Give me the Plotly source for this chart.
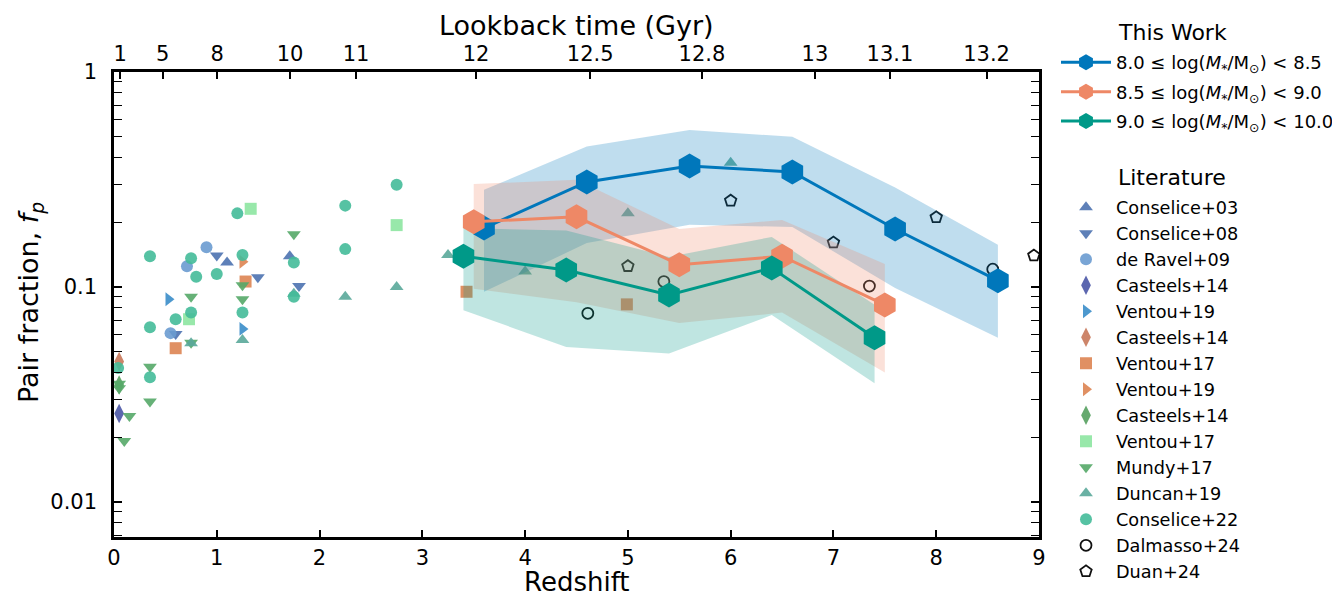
import plotly.graph_objects as go

# ---------------- This work ----------------
z_blue = [3.6, 4.6, 5.6, 6.6, 7.6, 8.6]
fp_blue = [0.188, 0.308, 0.365, 0.343, 0.186, 0.107]
lo_blue = [0.095, 0.160, 0.195, 0.190, 0.099, 0.058]
hi_blue = [0.283, 0.450, 0.537, 0.500, 0.290, 0.157]

z_sal = [3.5, 4.5, 5.5, 6.5, 7.5]
fp_sal = [0.201, 0.212, 0.127, 0.139, 0.0825]
lo_sal = [0.098, 0.085, 0.068, 0.076, 0.040]
hi_sal = [0.301, 0.315, 0.186, 0.205, 0.128]

z_grn = [3.4, 4.4, 5.4, 6.4, 7.4]
fp_grn = [0.139, 0.120, 0.0918, 0.1225, 0.058]
lo_grn = [0.078, 0.0526, 0.049, 0.074, 0.0357]
hi_grn = [0.188, 0.183, 0.138, 0.171, 0.0826]

this_work_labels = [
    "8.0 ≤ log(<i>M</i><sub>*</sub>/M<sub>⊙</sub>) < 8.5",
    "8.5 ≤ log(<i>M</i><sub>*</sub>/M<sub>⊙</sub>) < 9.0",
    "9.0 ≤ log(<i>M</i><sub>*</sub>/M<sub>⊙</sub>) < 10.0",
]
this_work_colors = ["#0077BB", "#EE8866", "#009988"]
this_work_fills = ["rgba(0,119,187,0.25)", "rgba(238,136,102,0.25)", "rgba(0,153,136,0.25)"]

# ---------------- Literature ----------------
lit_names = ["Conselice+03", "Conselice+08", "de Ravel+09", "Casteels+14", "Ventou+19",
             "Casteels+14", "Ventou+17", "Ventou+19", "Casteels+14", "Ventou+17",
             "Mundy+17", "Duncan+19", "Conselice+22", "Dalmasso+24", "Duan+24"]
lit_symbols = ["triangle-up", "triangle-down", "circle", "diamond-tall", "triangle-right",
               "diamond-tall", "square", "triangle-right", "diamond-tall", "square",
               "triangle-down", "triangle-up", "circle", "circle-open", "pentagon-open"]
lit_colors = ["#4C72B0", "#4C72B0", "#6A9BD0", "#4A56A6", "#3A8DC9",
              "#C8785A", "#DD8452", "#DD8452", "#55A05F", "#8DE5A1",
              "#55A868", "#5AA99A", "#44BB99", "#111111", "#111111"]

lit_z = [
    [1.10, 1.71],
    [0.60, 1.00, 1.40, 1.80],
    [0.55, 0.71, 0.90],
    [0.05],
    [0.53, 1.25],
    [0.05],
    [0.60, 1.28, 3.43, 4.99],
    [1.25],
    [0.05],
    [0.73, 1.33, 2.75],
    [0.05, 0.05, 0.10, 0.15, 0.35, 0.35, 0.75, 0.75, 1.25, 1.25, 1.75],
    [0.75, 1.25, 1.75, 2.25, 2.75, 3.25, 4.00, 5.00, 6.00],
    [0.04, 0.35, 0.35, 0.35, 0.60, 0.75, 0.75, 0.80, 1.00, 1.20, 1.25, 1.25, 1.75, 1.75, 2.25, 2.25, 2.75],
    [4.61, 5.35, 7.35, 8.55],
    [5.00, 6.00, 7.00, 8.00, 8.95],
]
lit_fp = [
    [0.130, 0.139],
    [0.0604, 0.140, 0.111, 0.101],
    [0.061, 0.125, 0.153],
    [0.0258],
    [0.0877, 0.0638],
    [0.045],
    [0.0519, 0.106, 0.095, 0.083],
    [0.131],
    [0.035],
    [0.0708, 0.231, 0.194],
    [0.0355, 0.0338, 0.0192, 0.0251, 0.0426, 0.0293, 0.090, 0.055, 0.102, 0.0877, 0.176],
    [0.0547, 0.0567, 0.093, 0.090, 0.100, 0.141, 0.118, 0.220, 0.378],
    [0.042, 0.139, 0.065, 0.038, 0.0708, 0.136, 0.076, 0.1116, 0.115, 0.220, 0.141, 0.076, 0.130, 0.090, 0.239, 0.150, 0.299],
    [0.0754, 0.106, 0.101, 0.121],
    [0.125, 0.252, 0.161, 0.211, 0.140],
]

# Top axis: lookback time labels at their redshift positions
lookback_labels = ["1", "5", "8", "10", "11", "12", "12.5", "12.8", "13", "13.1", "13.2"]
lookback_z = [0.06, 0.474, 1.005, 1.713, 2.355, 3.523, 4.633, 5.72, 6.82, 7.55, 8.49]

FONT = "DejaVu Sans"
# plot-area geometry in pixels (used to place titles/legends)
L, R, T, B = 114, 1039, 72, 537
W, H = R - L, B - T


def px_x(x):
    return (x - L) / W


def px_y(y):
    return (B - y) / H


fig = go.Figure()

# literature points (drawn first, under the bands)
for i, (name, sym, col, zz, ff) in enumerate(zip(lit_names, lit_symbols, lit_colors, lit_z, lit_fp)):
    is_open = sym.endswith("open")
    if sym == "circle-open":
        size = 11
    elif sym == "diamond-tall":
        size = 14
    else:
        size = 12
    fig.add_trace(go.Scatter(
        x=zz, y=ff, mode="markers", name=name, legend="legend2", legendgroup=f"lit{i}",
        marker=dict(symbol=sym, size=size, color=col, opacity=1.0 if is_open else 0.9,
                    line=dict(width=1.8 if is_open else 0, color=col)),
    ))

# bands
for zz, lo, hi, fc in [(z_blue, lo_blue, hi_blue, this_work_fills[0]),
                       (z_sal, lo_sal, hi_sal, this_work_fills[1]),
                       (z_grn, lo_grn, hi_grn, this_work_fills[2])]:
    fig.add_trace(go.Scatter(
        x=list(zz) + list(zz)[::-1], y=list(hi) + list(lo)[::-1],
        fill="toself", fillcolor=fc, line=dict(width=0), mode="lines",
        showlegend=False, hoverinfo="skip"))

# lines
for i, (zz, ff, lab, col) in enumerate([(z_blue, fp_blue, this_work_labels[0], this_work_colors[0]),
                                        (z_sal, fp_sal, this_work_labels[1], this_work_colors[1]),
                                        (z_grn, fp_grn, this_work_labels[2], this_work_colors[2])]):
    fig.add_trace(go.Scatter(
        x=zz, y=ff, mode="lines+markers", name=lab, legend="legend", legendgroup=f"tw{i}",
        line=dict(color=col, width=3),
        marker=dict(symbol="hexagon", size=25, color=col, line=dict(width=0))))

# dummy trace for top axis
fig.add_trace(go.Scatter(x=[0, 9], y=[None, None], xaxis="x2", showlegend=False,
                         hoverinfo="skip", mode="markers"))

axis_common = dict(showline=True, linewidth=2.5, linecolor="black", ticks="inside",
                   tickwidth=1.5, tickcolor="black", showgrid=False, zeroline=False,
                   automargin=False)

fig.update_layout(
    width=1332, height=596,
    margin=dict(l=L, r=1332 - R, t=T, b=596 - B, autoexpand=False),
    plot_bgcolor="white", paper_bgcolor="white",
    font=dict(family=FONT, color="black", size=21),
    xaxis=dict(range=[0, 9], dtick=1, tick0=0, ticklen=7, mirror=True,
               tickfont=dict(size=21), **axis_common),
    xaxis2=dict(overlaying="x", side="top", range=[0, 9], tickmode="array",
                tickvals=lookback_z, ticktext=lookback_labels, ticklen=7,
                tickfont=dict(size=21), **axis_common),
    yaxis=dict(type="log", range=[-2.163, 0], tickmode="array",
               tickvals=[0.01, 0.1, 1], ticktext=["0.01", "0.1", "1"], ticklen=8,
               mirror="allticks", tickfont=dict(size=21), ticklabelstandoff=10,
               minor=dict(ticks="inside", ticklen=4, tickwidth=1.2, tickcolor="black",
                          dtick="D1", showgrid=False),
               **axis_common),
    legend=dict(x=px_x(1056), xanchor="left", y=1.06, yanchor="top",
                font=dict(size=18), bgcolor="rgba(0,0,0,0)", itemwidth=50,
                tracegroupgap=3, itemsizing="trace"),
    legend2=dict(x=px_x(1056), xanchor="left", y=0.748, yanchor="top",
                 font=dict(size=17.7), bgcolor="rgba(0,0,0,0)", itemwidth=50,
                 tracegroupgap=0, itemsizing="trace"),
    showlegend=True,
)
# axis titles and legend headings
fig.add_annotation(text="Redshift", x=0.5, y=px_y(582), xref="paper", yref="paper",
                   showarrow=False, font=dict(size=26), xanchor="center", yanchor="middle")
fig.add_annotation(text="Lookback time (Gyr)", x=0.5, y=px_y(25), xref="paper", yref="paper",
                   showarrow=False, font=dict(size=27), xanchor="center", yanchor="middle")
fig.add_annotation(text="Pair fraction, <i>f<sub>p</sub></i>", x=px_x(30), y=px_y(303),
                   xref="paper", yref="paper", textangle=-90,
                   showarrow=False, font=dict(size=27), xanchor="center", yanchor="middle")
fig.add_annotation(text="This Work", x=px_x(1116), y=px_y(33),
                   xref="paper", yref="paper", showarrow=False, font=dict(size=22),
                   xanchor="left", yanchor="middle")
fig.add_annotation(text="Literature", x=px_x(1116), y=px_y(177),
                   xref="paper", yref="paper", showarrow=False, font=dict(size=22),
                   xanchor="left", yanchor="middle")

fig.write_html("out.html")
